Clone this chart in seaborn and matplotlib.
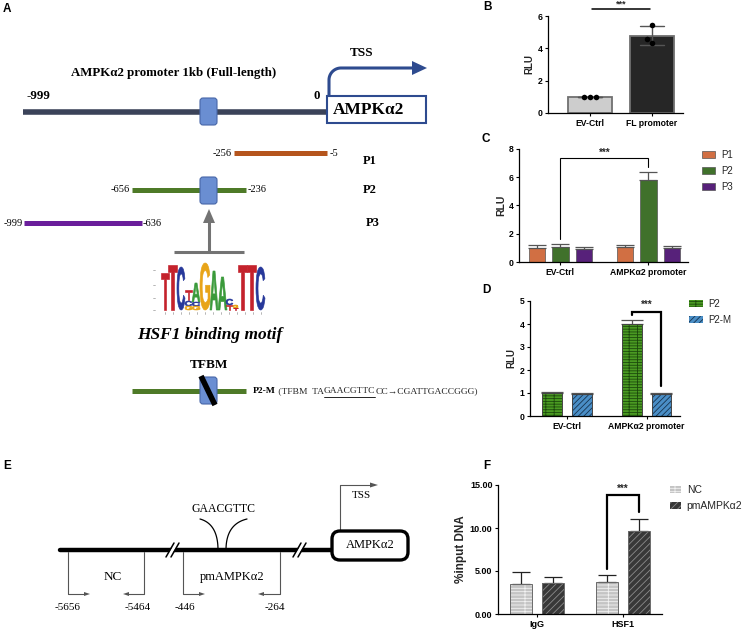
import numpy as np
import pandas as pd
import matplotlib
matplotlib.use('Agg')
import matplotlib.pyplot as plt
import seaborn as sns
from matplotlib.patches import FancyBboxPatch, Rectangle, Polygon, PathPatch
from matplotlib.textpath import TextPath
from matplotlib.font_manager import FontProperties
from matplotlib.transforms import Affine2D

# ---------------- data ----------------
# Panel B (replicates)
b_groups = ['EV-Ctrl', 'FL promoter']
b_ev_reps = [1.0, 1.0, 1.0]
b_fl_reps = [5.44, 4.56, 4.35]
b_ticks = [0, 2, 4, 6]

# Panel C
c_categories = ['EV-Ctrl', 'AMPKα2 promoter']
c_series = ['P1', 'P2', 'P3']
c_p1 = [1.02, 1.07]
c_p2 = [1.07, 5.83]
c_p3 = [0.95, 1.00]
c_p1_err = [0.17, 0.12]
c_p2_err = [0.17, 0.52]
c_p3_err = [0.14, 0.14]
c_ticks = [0, 2, 4, 6, 8]

# Panel D
d_categories = ['EV-Ctrl', 'AMPKα2 promoter']
d_series = ['P2', 'P2-M']
d_p2 = [0.99, 4.01]
d_p2m = [0.97, 0.97]
d_p2_err = [0.07, 0.17]
d_p2m_err = [0.05, 0.05]
d_ticks = [0, 1, 2, 3, 4, 5]

# Panel F
f_categories = ['IgG', 'HSF1']
f_series = ['NC', 'pmAMPKα2']
f_nc = [3.50, 3.70]
f_pm = [3.58, 9.70]
f_nc_err = [1.37, 0.78]
f_pm_err = [0.67, 1.36]
f_ticks = [0, 5, 10, 15]

# ---------------- setup ----------------
sns.set_theme(style='ticks')
plt.rcParams['font.family'] = ['Liberation Sans', 'DejaVu Sans']
plt.rcParams['hatch.linewidth'] = 0.6
SERIF = ['Liberation Serif', 'DejaVu Serif']
SANS = ['Liberation Sans', 'DejaVu Sans']

W, H = 749, 631
fig = plt.figure(figsize=(W / 100, H / 100), dpi=100)
fig.patch.set_facecolor('white')

ax0 = fig.add_axes([0, 0, 1, 1])
ax0.set_xlim(0, W)
ax0.set_ylim(H, 0)
ax0.axis('off')


def add_ax(x0, y0, x1, y1):
    return fig.add_axes([x0 / W, 1 - y1 / H, (x1 - x0) / W, (y1 - y0) / H])


def T(x, y, s, size, weight='normal', style='normal', ha='center', va='center',
      color='black', family=SERIF):
    return ax0.text(x, y, s, fontsize=size, fontweight=weight, fontstyle=style,
                    ha=ha, va=va, color=color, family=family)


def hline(x0, x1, y, color, lw, cap='butt'):
    ax0.plot([x0, x1], [y, y], color=color, lw=lw, solid_capstyle=cap)


def tfbm_box(x, y):
    ax0.add_patch(FancyBboxPatch((x, y), 17, 27, boxstyle='round,pad=0,rounding_size=3',
                                 fc='#6a8ed2', ec='#4766a8', lw=0.8, zorder=3))


# ---------------- panel labels ----------------
for lab, (x, y) in {'A': (7, 9), 'B': (487, 7), 'C': (486, 139), 'D': (486, 290),
                    'E': (7, 466), 'F': (487, 466)}.items():
    T(x, y, lab, 8.5, weight='bold', family=SANS)

# ---------------- panel A diagram ----------------
T(174, 73, 'AMPKα2 promoter 1kb (Full-length)', 9.3, weight='bold')
T(38, 96, '-999', 9.3, weight='bold')
T(317, 96, '0', 9.3, weight='bold')
hline(23, 328, 112, '#3b4359', 4.0)
tfbm_box(200, 98)
ax0.add_patch(Rectangle((327, 96), 99, 27, fc='white', ec='#2e4b8f', lw=1.5, zorder=3))
T(333, 110, 'AMPKα2', 12.5, weight='bold', ha='left')
# TSS arrow
t = np.linspace(0, np.pi / 2, 30)
xs = np.concatenate([[329, 329], 341 - 12 * np.cos(t), [414]])
ys = np.concatenate([[96, 80], 80 - 12 * np.sin(t), [68]])
ax0.plot(xs, ys, color='#2e4b8f', lw=2.2, solid_capstyle='butt')
ax0.add_patch(Polygon([(412, 61), (427, 68), (412, 75)], closed=True, fc='#2e4b8f', ec='none'))
T(362, 53, 'TSS', 9.5, weight='bold')

# fragments
hline(234, 327, 153, '#b5551d', 3.6)
T(232, 153, '-256', 7.5, ha='right')
T(330, 153, '-5', 7.5, ha='left')
T(363, 161, 'P1', 9, weight='bold', ha='left')

hline(132, 246, 190, '#4e7a28', 3.6)
tfbm_box(200, 177)
T(130, 190, '-656', 7.5, ha='right')
T(248, 190, '-236', 7.5, ha='left')
T(363, 190, 'P2', 9, weight='bold', ha='left')

hline(24, 142, 223, '#6a1e9b', 3.6)
T(23, 223, '-999', 7.5, ha='right')
T(143, 223, '-636', 7.5, ha='left')
T(366, 223, 'P3', 9, weight='bold', ha='left')

# grey arrow
ax0.plot([174, 244], [252, 252], color='#737373', lw=2.2, solid_capstyle='butt')
ax0.plot([209, 209], [252, 221], color='#737373', lw=2.2, solid_capstyle='butt')
ax0.add_patch(Polygon([(203, 223), (209, 209), (215, 223)], closed=True, fc='#737373', ec='none'))

# sequence logo
RED, BLUE, GREEN, ORANGE = '#c4222c', '#27389a', '#3a9a3a', '#e8a418'
logo_fp = FontProperties(family='Liberation Sans', weight='bold')


def letter(ch, x0, x1, ytop, ybot, color):
    tp = TextPath((0, 0), ch, size=1, prop=logo_fp)
    ext = tp.get_extents()
    tr = (Affine2D().translate(-ext.x0, -ext.y0)
          .scale((x1 - x0) / ext.width, -(ybot - ytop) / ext.height)
          .translate(x0, ybot))
    ax0.add_patch(PathPatch(tr.transform_path(tp), fc=color, ec=color, lw=0.45))


logo = [
    ('T', 161, 169, 273, 310, RED), ('T', 168, 177, 265, 310, RED),
    ('C', 177, 185, 267, 310, BLUE),
    ('T', 185, 192, 290, 300, RED), ('C', 185, 192, 301, 306, BLUE), ('G', 185, 192, 306, 310, ORANGE),
    ('A', 192, 200, 283, 302, GREEN), ('C', 192, 200, 302, 306, BLUE), ('G', 192, 200, 306, 310, ORANGE),
    ('G', 200, 210, 263, 310, ORANGE),
    ('A', 210, 218, 271, 310, GREEN), ('A', 218, 227, 277, 310, GREEN),
    ('C', 226, 233, 299, 305, BLUE), ('T', 226, 233, 305, 310, RED),
    ('G', 233, 238, 305, 308, ORANGE), ('T', 233, 238, 308, 310, RED),
    ('T', 238, 247, 265, 310, RED), ('T', 247, 256, 265, 310, RED),
    ('C', 256, 265, 267, 310, BLUE),
]
for ch, x0_, x1_, yt, yb, col in logo:
    letter(ch, x0_, x1_, yt, yb, col)
for xc in np.linspace(165, 261, 13):
    ax0.plot([xc, xc], [312, 313.5], color='#999999', lw=0.5)
for yc in [270, 285, 298, 310]:
    ax0.plot([153, 154.5], [yc, yc], color='#999999', lw=0.5)

T(210, 335, 'HSF1 binding motif', 12.5, weight='bold', style='italic')
T(209, 365, 'TFBM', 9.5, weight='bold')
hline(132, 246, 391, '#4e7a28', 3.6)
tfbm_box(200, 377)
ax0.plot([201, 215], [376, 405], color='black', lw=4, solid_capstyle='butt', zorder=4)
t1 = T(253, 391, 'P2-M', 6.8, weight='bold', ha='left')
t2 = ax0.annotate(' (TFBM  TA', xy=(1, 0.5), xycoords=t1,
                  fontsize=6.8, family=SERIF, ha='left', va='center')
t3 = ax0.annotate('GAACGTTC', xy=(1, 0.5), xycoords=t2,
                  fontsize=6.8, family=SERIF, ha='left', va='center')
t4 = ax0.annotate('CC→CGATTGACCGGG)', xy=(1, 0.5), xycoords=t3,
                  fontsize=6.8, family=SERIF, ha='left', va='center')

# ---------------- panel E diagram ----------------
ax0.plot([60, 333], [550, 550], color='black', lw=3.2, solid_capstyle='round')
for bx in (171, 298):
    ax0.add_patch(Polygon([(bx - 4, 556), (bx + 3, 544), (bx + 7, 544), (bx, 556)], closed=True,
                          fc='white', ec='none', zorder=3))
    ax0.plot([bx - 5, bx + 3], [557, 543], color='black', lw=1.1, zorder=4)
    ax0.plot([bx + 0, bx + 8], [557, 543], color='black', lw=1.1, zorder=4)
ax0.add_patch(FancyBboxPatch((332, 531), 76, 29, boxstyle='round,pad=0,rounding_size=8',
                             fc='white', ec='black', lw=2.4, zorder=3))
T(370, 545, 'AMPKα2', 9)
GR = '#555555'
ax0.plot([340, 340, 371], [531, 485, 485], color=GR, lw=0.8)
ax0.add_patch(Polygon([(370, 482.5), (378, 485), (370, 487.5)], closed=True, fc=GR, ec='none'))
T(352, 495, 'TSS', 8, ha='left')
T(223, 509, 'GAACGTTC', 8.5)


def qbez(p0, p1, p2, n=40):
    tt = np.linspace(0, 1, n)[:, None]
    p0, p1, p2 = map(np.asarray, (p0, p1, p2))
    return (1 - tt) ** 2 * p0 + 2 * (1 - tt) * tt * p1 + tt ** 2 * p2


for pts in (qbez((218, 550), (218, 524), (200, 519)), qbez((226, 550), (226, 524), (247, 519))):
    ax0.plot(pts[:, 0], pts[:, 1], color='black', lw=0.9)


def primer(xv, xend):
    ax0.plot([xv, xv, xend], [552, 594, 594], color=GR, lw=0.8)
    d = 1 if xend > xv else -1
    ax0.add_patch(Polygon([(xend - d * 1, 592), (xend + d * 5, 594), (xend - d * 1, 596)],
                          closed=True, fc=GR, ec='none'))


primer(68, 85)
primer(144, 128)
primer(183, 200)
primer(280, 263)
T(113, 577, 'NC', 9.5)
T(232, 577, 'pmAMPKα2', 9)
for x, s in [(68, '-5656'), (138, '-5464'), (185, '-446'), (275, '-264')]:
    T(x, 608, s, 8)


# ---------------- helpers for charts ----------------
def long_df(categories, series_names, values_list):
    rows = []
    for s, vals in zip(series_names, values_list):
        for c, v in zip(categories, vals):
            rows.append({'cat': c, 'series': s, 'val': v})
    return pd.DataFrame(rows)


def style_axis(ax, fs, ylabel, lfs):
    sns.despine(ax=ax)
    for sp in ('left', 'bottom'):
        ax.spines[sp].set_linewidth(0.9)
        ax.spines[sp].set_color('black')
    ax.tick_params(axis='both', direction='out', length=2.5, width=0.8, pad=1.5,
                   labelsize=fs, colors='black')
    for lab in ax.get_xticklabels() + ax.get_yticklabels():
        lab.set_fontweight('bold')
    ax.set_xlabel('')
    ax.set_ylabel(ylabel, fontsize=lfs, fontweight='bold', labelpad=2)
    ax.set_facecolor('none')


def add_errors(ax, containers, errs, capsize, color='#555555'):
    for cont, es in zip(containers, errs):
        for bar, e in zip(cont, es):
            x = bar.get_x() + bar.get_width() / 2
            y = bar.get_height()
            ax.errorbar([x], [y], yerr=[[0], [e]], fmt='none', ecolor=color, elinewidth=0.9,
                        capsize=capsize, capthick=0.9, zorder=1)


def hatch_bars(ax, containers, faces, hatches, hcolors, outline):
    for cont, fc, h, hc in zip(containers, faces, hatches, hcolors):
        for bar in cont:
            bar.set_facecolor(fc)
            bar.set_hatch(h)
            bar.set_edgecolor(hc)
            bar.set_linewidth(0)
            ax.add_patch(Rectangle((bar.get_x(), bar.get_y()), bar.get_width(), bar.get_height(),
                                   fill=False, ec=outline, lw=0.7, zorder=bar.get_zorder() + 0.1))


def legend(ax, containers, labels, x, y, fs, hl, hh, ls, htp):
    if ax.get_legend() is not None:
        ax.get_legend().remove()
    handles = [cont[0] for cont in containers]
    ax.legend(handles, labels, loc='upper left', bbox_to_anchor=(x / W, 1 - y / H),
              bbox_transform=fig.transFigure, frameon=False, fontsize=fs, handlelength=hl,
              handleheight=hh, labelspacing=ls, handletextpad=htp, borderpad=0, borderaxespad=0)


def bracket(ax, xl, xr, yl, yr, ytop, ystar, lw, fs):
    ax.plot([xl, xl, xr, xr], [yl, ytop, ytop, yr], color='black', lw=lw, clip_on=False,
            solid_joinstyle='miter')
    ax.text((xl + xr) / 2, ystar, '***', ha='center', va='center', fontsize=fs,
            fontweight='bold', clip_on=False)


# ---------------- panel B ----------------
b_df = pd.DataFrame({'group': [b_groups[0]] * len(b_ev_reps) + [b_groups[1]] * len(b_fl_reps),
                     'RLU': b_ev_reps + b_fl_reps})
axB = add_ax(548, 16, 683, 113)
sns.barplot(data=b_df, x='group', y='RLU', hue='group', order=b_groups, hue_order=b_groups,
            palette=['#cdcdcd', '#262626'], legend=False, errorbar='sd', capsize=0.4, width=0.7,
            err_kws={'color': '#555555', 'linewidth': 1.0}, edgecolor='#707070', linewidth=1.3,
            ax=axB)
sns.swarmplot(data=b_df, x='group', y='RLU', order=b_groups, color='black', size=4, ax=axB)
axB.set_xlim(-0.68, 1.5)
axB.set_ylim(0, 6)
axB.set_yticks(b_ticks)
style_axis(axB, 6.2, 'RLU', 7)
axB.plot([0.03, 0.97], [6.43, 6.43], color='black', lw=1.1, clip_on=False)
axB.text(0.5, 6.72, '***', ha='center', va='center', fontsize=6.5, fontweight='bold')

# ---------------- panel C ----------------
c_df = long_df(c_categories, c_series, [c_p1, c_p2, c_p3])
axC = add_ax(519, 149, 688, 262)
sns.barplot(data=c_df, x='cat', y='val', hue='series', order=c_categories, hue_order=c_series,
            palette=['#e8662c', '#3b7d1f', '#5a1289'], errorbar=None, width=0.8, gap=0.3,
            edgecolor='#555555', linewidth=0.5, ax=axC)
c_cont = list(axC.containers)
add_errors(axC, c_cont, [c_p1_err, c_p2_err, c_p3_err], 6.5)
axC.set_xlim(-0.47, 1.45)
axC.set_ylim(0, 8)
axC.set_yticks(c_ticks)
style_axis(axC, 6.2, 'RLU', 7.5)
bracket(axC, 0.0, 1.0, 1.6, 6.7, 7.36, 7.75, 0.8, 7)
legend(axC, c_cont, c_series, 702, 150, 7, 1.35, 0.65, 0.62, 0.65)

# ---------------- panel D ----------------
d_df = long_df(d_categories, d_series, [d_p2, d_p2m])
axD = add_ax(530, 301, 680, 416)
sns.barplot(data=d_df, x='cat', y='val', hue='series', order=d_categories, hue_order=d_series,
            palette=['#45921f', '#3f86bd'], errorbar=None, width=0.75, gap=0.33, ax=axD)
d_cont = list(axD.containers)
hatch_bars(axD, d_cont, ['#4a9a22', '#4a8ec6'], ['------||', '//////'],
           ['#1c4a0c', '#16334f'], '#444444')
add_errors(axD, d_cont, [d_p2_err, d_p2m_err], 8)
axD.set_xlim(-0.465, 1.42)
axD.set_ylim(0, 5)
axD.set_yticks(d_ticks)
style_axis(axD, 6.2, 'RLU', 7)
xl = d_cont[0][1].get_x() + d_cont[0][1].get_width() / 2
xr = d_cont[1][1].get_x() + d_cont[1][1].get_width() / 2
bracket(axD, xl, xr, 4.37, 1.29, 4.54, 4.83, 1.6, 7)
legend(axD, d_cont, d_series, 689, 299, 7, 1.45, 0.7, 0.6, 0.55)

# ---------------- panel F ----------------
f_df = long_df(f_categories, f_series, [f_nc, f_pm])
axF = add_ax(498, 485, 662, 614)
sns.barplot(data=f_df, x='cat', y='val', hue='series', order=f_categories, hue_order=f_series,
            palette=['#cfcfcf', '#3a3a3a'], errorbar=None, width=0.745, gap=0.31, ax=axF)
f_cont = list(axF.containers)
hatch_bars(axF, f_cont, ['#c4c4c4', '#383838'], ['-----|', '/////'],
           ['#f2f2f2', '#8c8c8c'], '#6a6a6a')
add_errors(axF, f_cont, [f_nc_err, f_pm_err], 6.5, color='#222222')
axF.set_xlim(-0.453, 1.45)
axF.set_ylim(0, 15)
axF.set_yticks(f_ticks)
axF.set_yticklabels([f'{v:.2f}' for v in f_ticks])
style_axis(axF, 6.5, '%input DNA', 8.5)
xl = f_cont[0][1].get_x() + f_cont[0][1].get_width() / 2
xr = f_cont[1][1].get_x() + f_cont[1][1].get_width() / 2
bracket(axF, xl, xr, 5.26, 11.84, 13.8, 14.5, 1.6, 7)
legend(axF, f_cont, f_series, 670, 485, 7.5, 1.1, 0.65, 0.55, 0.5)

# underline under the TFBM core sequence (x span from the rendered text)
fig.canvas.draw()
bb = t3.get_window_extent(renderer=fig.canvas.get_renderer())
inv = ax0.transData.inverted()
(ux0, _), (ux1, _) = inv.transform([(bb.x0, bb.y0), (bb.x1, bb.y1)])
ax0.plot([min(ux0, ux1), max(ux0, ux1)], [396.5, 396.5], color='black', lw=0.6)

fig.savefig('out.png', dpi=100, facecolor='white')
